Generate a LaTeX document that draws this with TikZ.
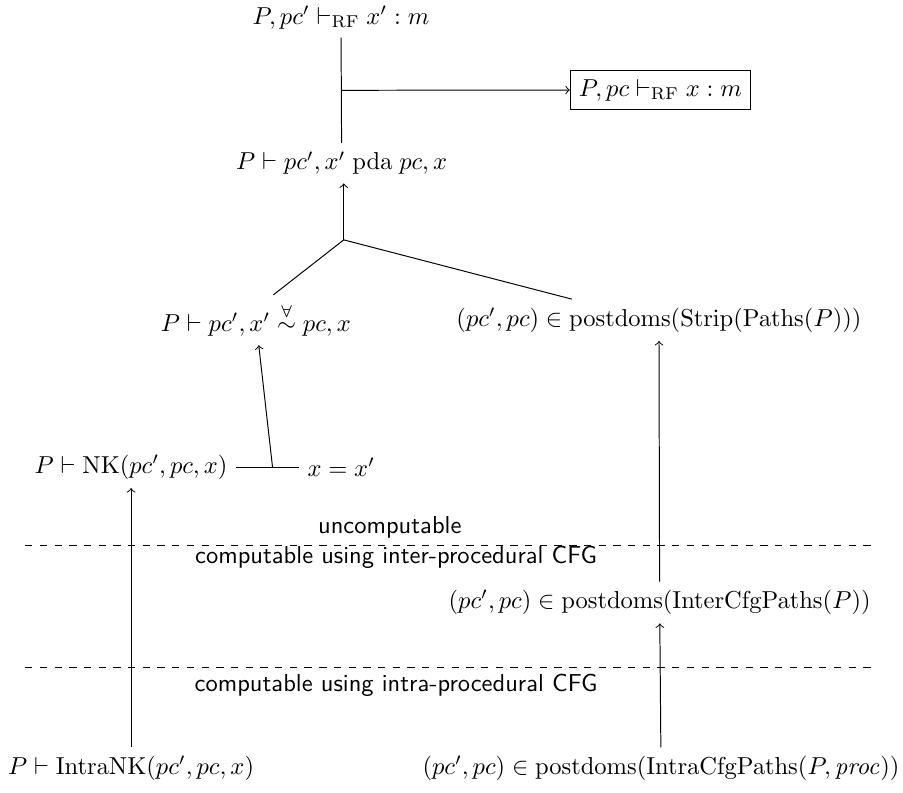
\documentclass[tikz,border=0pt]{standalone}
\usepackage{amsmath,amssymb}
\usepackage{tikz}
\usetikzlibrary{calc,positioning}

\begin{document}
\begin{tikzpicture}[
    lbl/.style={font=\sffamily},
    goal/.style={rectangle, draw=black, inner sep=3.5pt, minimum height=0.56cm},
    arr/.style={->}
]
\useasboundingbox (0,0) rectangle (12.95,11.36);

\node                 (rfp)    at (4.89,11.11) {$P, pc' \vdash_{\mathrm{RF}} x' : m$};
\node[goal]           (rf)     at (9.47,10.07) {$P, pc \vdash_{\mathrm{RF}} x : m$};
\node                 (pda)    at (4.90,9.02)  {$P \vdash pc', x' \mathrel{\mathrm{pda}} pc, x$};
\node                 (sim)    at (3.67,6.77)  {$P \vdash pc', x' \stackrel{\forall}{\sim} pc, x$};
\node                 (strip)  at (9.45,6.77)  {$(pc', pc) \in \mathrm{postdoms}(\mathrm{Strip}(\mathrm{Paths}(P)))$};
\node                 (nk)     at (1.88,4.66)  {$P \vdash \mathrm{NK}(pc', pc, x)$};
\node[right=0.9cm of nk] (xeq)                 {$x = x'$};
\node                 (inter)  at (9.46,2.72)  {$(pc', pc) \in \mathrm{postdoms}(\mathrm{InterCfgPaths}(P))$};
\node                 (inknk)  at (1.88,0.34)  {$P \vdash \mathrm{IntraNK}(pc', pc, x)$};
\node                 (inpd)   at (9.48,0.34)  {$(pc', pc) \in \mathrm{postdoms}(\mathrm{IntraCfgPaths}(P, \mathit{proc}))$};

% computability levels
\coordinate (d1l) at (0.36,3.54);
\coordinate (d1r) at (12.52,3.54);
\coordinate (d2l) at (0.36,1.79);
\coordinate (d2r) at (12.52,1.79);
\draw[dashed] (d1l) -- (d1r);
\draw[dashed] (d2l) -- (d2r);
\node[lbl] (uncomp) at (5.59,3.80) {uncomputable};
\node[lbl] (comp1)  at (5.68,3.37) {computable using inter-procedural CFG};
\node[lbl] (comp2)  at (5.68,1.53) {computable using intra-procedural CFG};

% rules
\draw (rfp) -- (pda);
\coordinate (m1) at ($(rfp.south)!0.5!(pda.north)$);
\draw[arr] (m1) -- (rf);

\coordinate (j1) at (4.93,7.92);
\draw[arr] (j1) -- (j1 |- pda.south);
\draw (j1) -- ($(sim.north)+(0.25,0)$);
\draw (j1) -- ($(strip.north)+(-1.25,0)$);

\draw (nk) -- (xeq);
\coordinate (j2) at ($(nk.east)!0.58!(xeq.west)$);
\draw[arr] (j2) -- (sim);

\draw[arr] (inknk) -- (nk);
\draw[arr] (inpd) -- (inter);
\draw[arr] (inter) -- (strip);
\end{tikzpicture}
\end{document}
